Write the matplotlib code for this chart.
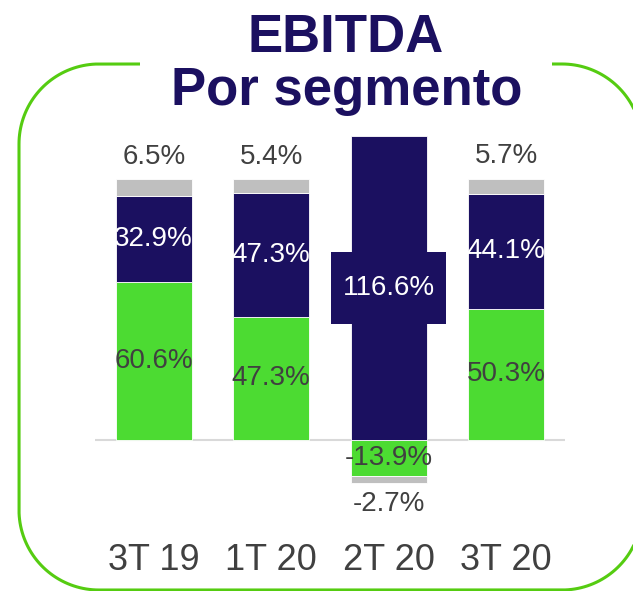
import numpy as np
import matplotlib.pyplot as plt
from matplotlib.lines import Line2D
from matplotlib.path import Path

# Data
quarters = ['3T 19', '1T 20', '2T 20', '3T 20']
green_vals = [60.6, 47.3, -13.9, 50.3]
navy_vals = [32.9, 47.3, 116.6, 44.1]
gray_vals = [6.5, 5.4, -2.7, 5.7]

# Colors
green = '#4cdb32'
navy = '#1b1060'
gray = '#bfbfbf'
text_gray = '#404040'
frame_green = '#55cc11'

plt.rcParams['font.family'] = ['Liberation Sans', 'DejaVu Sans']


def label_box(x0, y0, width, height, mutation_size):
    # rectangle with more vertical than horizontal padding
    px = 0.42 * mutation_size
    py = 0.83 * mutation_size
    verts = [(x0 - px, y0 - py), (x0 + width + px, y0 - py),
             (x0 + width + px, y0 + height + py), (x0 - px, y0 + height + py),
             (x0 - px, y0 - py)]
    return Path(verts, closed=True)


fig = plt.figure(figsize=(6.33, 5.91), dpi=100)
ax = fig.add_axes([95 / 633, 61 / 591, 470 / 633, 410 / 591])
ax.set_facecolor('none')

x = range(len(quarters))
pos_base = [0.0] * len(quarters)
neg_base = [0.0] * len(quarters)
segments = []
for vals, col in [(green_vals, green), (navy_vals, navy), (gray_vals, gray)]:
    bottoms = []
    for i, v in enumerate(vals):
        if v >= 0:
            bottoms.append(pos_base[i])
            pos_base[i] += v
        else:
            bottoms.append(neg_base[i])
            neg_base[i] += v
    ax.bar(x, vals, bottom=bottoms, width=0.65, color=col,
           edgecolor='white', linewidth=0.6, zorder=2)
    segments.append(bottoms)

ax.axhline(0, color='#d9d9d9', linewidth=1.5, zorder=1)

# Labels
for i in x:
    gb = segments[0][i]
    ax.text(i, gb + green_vals[i] / 2, f'{green_vals[i]:.1f}%', ha='center', va='center',
            fontsize=20, color=text_gray, zorder=3)
    nb = segments[1][i]
    if navy_vals[i] > 100:
        ax.text(i, nb + navy_vals[i] / 2, f'{navy_vals[i]:.1f}%', ha='center', va='center',
                fontsize=20, color='white', zorder=3,
                bbox=dict(boxstyle=label_box, facecolor=navy, edgecolor='none'))
    else:
        ax.text(i, nb + navy_vals[i] / 2, f'{navy_vals[i]:.1f}%', ha='center', va='center',
                fontsize=20, color='white', zorder=3)
    end = segments[2][i] + gray_vals[i]
    off = 16 if gray_vals[i] >= 0 else -15
    ax.annotate(f'{gray_vals[i]:.1f}%', (i, end), xytext=(0, off), textcoords='offset points',
                ha='center', va='center', fontsize=20, color=text_gray, zorder=3)

ax.set_xlim(-0.5, 3.5)
ax.set_ylim(-34.5, 122.6)
ax.set_xticks(list(x))
ax.set_xticklabels(quarters, fontsize=26, color=text_gray)
ax.tick_params(axis='x', length=0, pad=9)
ax.set_yticks([])
for s in ax.spines.values():
    s.set_visible(False)

# Rounded frame (inches) as one polyline, with a gap in the top edge for the title
L, R, B, T, r = 0.19, 6.42, 0.01, 5.27, 0.8
gap_l, gap_r = 1.40, 5.52


def corner(cx, cy, t1, t2):
    t = np.radians(np.linspace(t1, t2, 40))
    return list(cx + r * np.cos(t)), list(cy + r * np.sin(t))


fx, fy = [gap_l], [T]
for cx, cy, t1, t2 in [(L + r, T - r, 90, 180), (L + r, B + r, 180, 270),
                       (R - r, B + r, 270, 360), (R - r, T - r, 0, 90)]:
    ax_, ay_ = corner(cx, cy, t1, t2)
    fx += ax_
    fy += ay_
fx.append(gap_r)
fy.append(T)
fig.add_artist(Line2D(fx, fy, color=frame_green, linewidth=2.2,
                      transform=fig.dpi_scale_trans, zorder=0.5,
                      solid_capstyle='butt', solid_joinstyle='round'))

# Title
fig.text(346 / 633, 1 - 38 / 591, 'EBITDA', ha='center', va='center',
         fontsize=38, fontweight='bold', color=navy)
fig.text(347 / 633, 1 - 91 / 591, 'Por segmento', ha='center', va='center',
         fontsize=38, fontweight='bold', color=navy)

fig.savefig('out.png', dpi=100)
